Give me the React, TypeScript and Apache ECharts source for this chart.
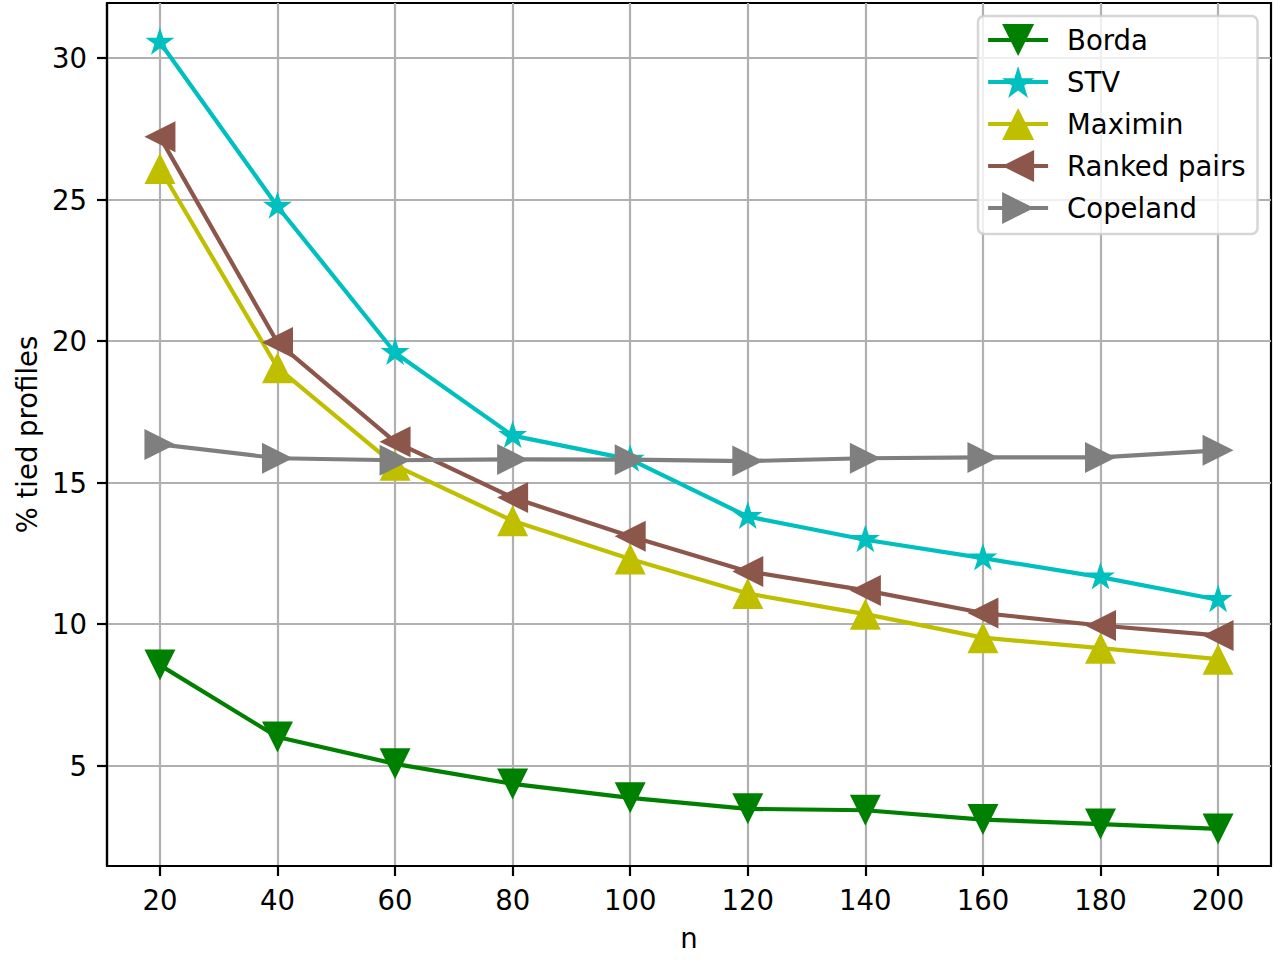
import React, { useEffect, useRef } from "react";
import * as echarts from "echarts";

const xValues = [20, 40, 60, 80, 100, 120, 140, 160, 180, 200];
const yTicks = [5, 10, 15, 20, 25, 30];
const seriesNames = ["Borda", "STV", "Maximin", "Ranked pairs", "Copeland"];
const borda = [8.55, 6.01, 5.06, 4.35, 3.86, 3.47, 3.42, 3.09, 2.93, 2.76];
const stv = [30.56, 24.76, 19.59, 16.66, 15.82, 13.8, 12.98, 12.33, 11.66, 10.86];
const maximin = [26.1, 19.06, 15.61, 13.65, 12.3, 11.08, 10.35, 9.52, 9.15, 8.76];
const rankedPairs = [27.22, 19.95, 16.44, 14.47, 13.1, 11.86, 11.19, 10.39, 9.95, 9.6];
const copeland = [16.35, 15.86, 15.79, 15.82, 15.81, 15.76, 15.86, 15.89, 15.89, 16.14];

const FONT = "DejaVu Sans";
const FS = 27.5;
const STAR =
  "path://M0,-100L22.45,-30.9L95.11,-30.9L36.33,11.8L58.78,80.9L0,38.2L-58.78,80.9L-36.33,11.8L-95.11,-30.9L-22.45,-30.9Z";

const seriesDefs = [
  { name: seriesNames[0], values: borda, color: "#008000", symbol: "triangle", rotate: 180, size: 31 },
  { name: seriesNames[1], values: stv, color: "#00bfbf", symbol: STAR, rotate: 0, size: 29 },
  { name: seriesNames[2], values: maximin, color: "#bfbf00", symbol: "triangle", rotate: 0, size: 31 },
  { name: seriesNames[3], values: rankedPairs, color: "#8c564b", symbol: "triangle", rotate: 90, size: 31 },
  { name: seriesNames[4], values: copeland, color: "#7f7f7f", symbol: "triangle", rotate: -90, size: 31 },
];

function buildOption() {
  return {
    animation: false,
    backgroundColor: "#ffffff",
    textStyle: { fontFamily: FONT },
    grid: {
      left: 107,
      top: 3,
      right: 9,
      bottom: 94,
      containLabel: false,
      outerBoundsMode: "none",
      show: true,
      borderColor: "#000000",
      borderWidth: 2.2,
      backgroundColor: "transparent",
    },
    legend: {
      show: true,
      orient: "vertical",
      left: 978,
      top: 16,
      padding: [8, 12, 10, 8],
      itemWidth: 60,
      itemHeight: 40,
      itemGap: 10,
      selectedMode: false,
      backgroundColor: "rgba(255,255,255,0.8)",
      borderColor: "rgba(204,204,204,0.8)",
      borderWidth: 2.5,
      borderRadius: 6,
      data: seriesNames,
      lineStyle: { width: 4.2 },
      textStyle: {
        fontFamily: FONT,
        fontSize: FS,
        color: "#000000",
        padding: [0, 0, 0, 14],
      },
    },
    xAxis: {
      type: "value",
      min: 11,
      max: 209,
      name: "n",
      nameLocation: "middle",
      nameGap: 58,
      nameTextStyle: { fontFamily: FONT, fontSize: FS, color: "#000000" },
      axisLine: { show: true, onZero: false, lineStyle: { color: "#000000", width: 2.2 } },
      axisTick: {
        show: true,
        length: 10,
        customValues: xValues,
        lineStyle: { color: "#000000", width: 2.2 },
      },
      axisLabel: {
        show: true,
        margin: 20,
        customValues: xValues,
        fontFamily: FONT,
        fontSize: FS,
        color: "#000000",
        showMinLabel: true,
        showMaxLabel: true,
      },
      splitLine: { show: true, lineStyle: { color: "#b0b0b0", width: 2.2 } },
    },
    yAxis: {
      type: "value",
      min: 1.45,
      max: 31.95,
      name: "% tied profiles",
      nameLocation: "middle",
      nameRotate: 90,
      nameGap: 66,
      nameTextStyle: { fontFamily: FONT, fontSize: FS, color: "#000000" },
      axisLine: { show: true, onZero: false, lineStyle: { color: "#000000", width: 2.2 } },
      axisTick: {
        show: true,
        length: 10,
        customValues: yTicks,
        lineStyle: { color: "#000000", width: 2.2 },
      },
      axisLabel: {
        show: true,
        margin: 20,
        customValues: yTicks,
        fontFamily: FONT,
        fontSize: FS,
        color: "#000000",
      },
      splitLine: { show: true, lineStyle: { color: "#b0b0b0", width: 2.2 } },
    },
    series: seriesDefs.map((s, i) => ({
      name: s.name,
      type: "line",
      data: xValues.map((x, j) => [x, s.values[j]]),
      symbol: s.symbol,
      symbolSize: s.size,
      symbolRotate: s.rotate,
      symbolKeepAspect: true,
      symbolOffset: s.symbol === STAR ? [0, -1.4] : [0, 0],
      showAllSymbol: true,
      lineStyle: { color: s.color, width: 4.2 },
      itemStyle: { color: s.color, borderWidth: 0 },
      z: 2 + i,
      silent: true,
      clip: false,
      emphasis: { disabled: true },
    })),
  };
}

export default function App() {
  const ref = useRef<HTMLDivElement>(null);
  useEffect(() => {
    const el = ref.current;
    if (!el) return;
    const chart = echarts.init(el, null, { renderer: "svg", width: 1280, height: 960 });
    chart.setOption(buildOption() as any);
    return () => chart.dispose();
  }, []);
  return (
    <div
      ref={ref}
      style={{ position: "fixed", left: 0, top: 0, width: 1280, height: 960, background: "#ffffff" }}
    />
  );
}
